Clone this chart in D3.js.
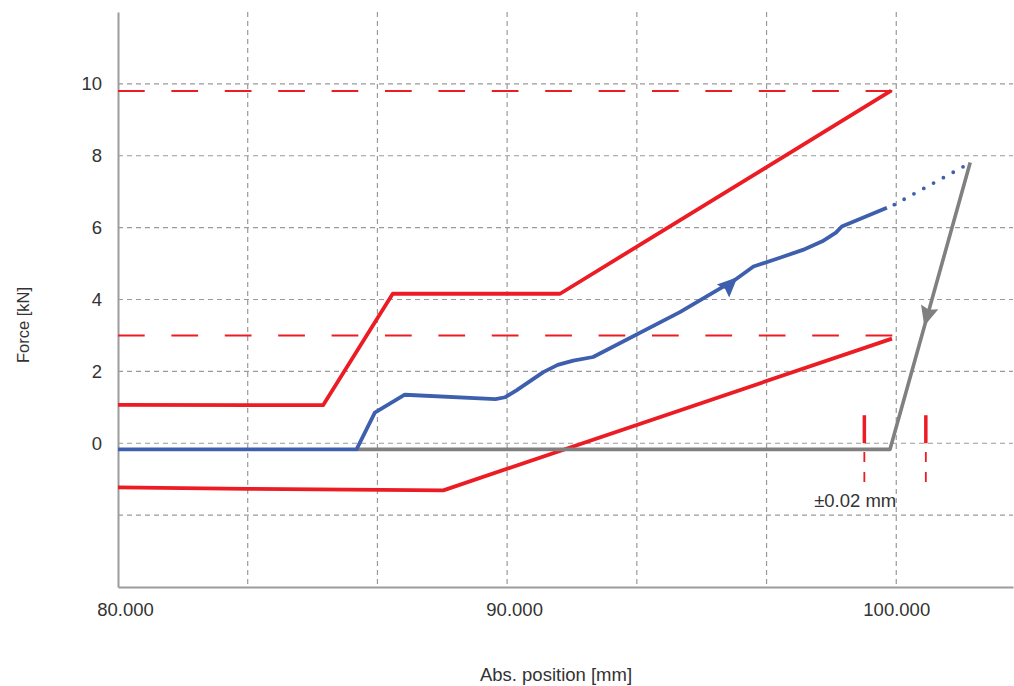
<!DOCTYPE html>
<html>
<head>
<meta charset="utf-8">
<script src="https://cdn.jsdelivr.net/npm/d3@7"></script>
<style>
  body { margin: 0; background: #fff; }
  text { font-family: "Liberation Sans", Arial, sans-serif; fill: #333; }
</style>
</head>
<body>
<script>
"use strict";

// axis ticks
var xTickValues = [80, 90, 100];
var xTickLabels = ["80.000", "90.000", "100.000"];
var yTickValues = [0, 2, 4, 6, 8, 10];
var xGridValues = [83.333, 86.667, 90, 93.333, 96.667, 100];
var yGridValues = [-2, 0, 2, 4, 6, 8, 10];

// upper / lower force limit envelope (red)
var upperLimit = [[80, 1.07], [85.27, 1.06], [87.06, 4.16], [91.36, 4.16], [99.87, 9.81]];
var lowerLimit = [[80, -1.23], [83.33, -1.27], [88.36, -1.31], [99.89, 2.91]];
// horizontal limit levels (dashed red)
var limitLevels = [9.8, 3.0];
var limitLevelEnd = 99.9;

// measured curve (blue)
var measured = [
    [80, -0.17], [86.13, -0.17], [86.6, 0.85], [87.37, 1.35], [89.7, 1.23],
    [89.95, 1.28], [90.24, 1.47], [90.93, 1.98], [91.3, 2.18], [91.7, 2.3],
    [92.21, 2.4], [94.44, 3.65], [95.86, 4.55], [96.33, 4.92], [97.01, 5.16],
    [97.6, 5.38], [98.1, 5.62], [98.45, 5.86], [98.6, 6.03], [99.76, 6.55]
];
var measuredDotted = [[99.95, 6.64], [101.9, 7.8]];

// return path (gray)
var returnPath = [[86.13, -0.17], [99.84, -0.17], [101.9, 7.81]];

// direction arrows: [tail, tip]
var blueArrow = [[95.55, 4.24], [95.92, 4.62]];
var grayArrow = [[100.86, 3.8], [100.72, 3.26]];

// tolerance marks
var tolX = [99.18, 100.76];
var tolSolid = [0, 0.78];
var tolDash = [-1.08, -0.24];
var tolLabel = "\u00b10.02 mm";

var RED = "#ec1c24", BLUE = "#3e5fae", GRAY = "#808081", GRID = "#9a9a9a";

var WIDTH = 1014, HEIGHT = 686;

var svg = d3.select("body").append("svg")
    .attr("width", WIDTH)
    .attr("height", HEIGHT);

var x = d3.scaleLinear().domain([80, 103]).range([118, 1013]);
var y = d3.scaleLinear().domain([-4, 12]).range([587, 12]);

var line = d3.line()
    .x(function(d) { return x(d[0]); })
    .y(function(d) { return y(d[1]); });

// grid
svg.append("g").selectAll("line")
    .data(xGridValues)
    .enter().append("line")
    .attr("x1", function(d) { return x(d); })
    .attr("x2", function(d) { return x(d); })
    .attr("y1", y(12))
    .attr("y2", y(-4))
    .attr("stroke", GRID)
    .attr("stroke-width", 1.2)
    .attr("stroke-dasharray", "5 4");

svg.append("g").selectAll("line")
    .data(yGridValues)
    .enter().append("line")
    .attr("x1", x(80))
    .attr("x2", x(103))
    .attr("y1", function(d) { return y(d); })
    .attr("y2", function(d) { return y(d); })
    .attr("stroke", GRID)
    .attr("stroke-width", 1.2)
    .attr("stroke-dasharray", "5 4");

// axes
var xAxis = d3.axisBottom(x)
    .tickValues(xTickValues)
    .tickSize(0)
    .tickPadding(16)
    .tickFormat(function(d, i) { return xTickLabels[i]; });

var gx = svg.append("g")
    .attr("transform", "translate(0," + y(-4) + ")")
    .call(xAxis);
gx.select(".domain").attr("stroke", "#9c9c9c").attr("stroke-width", 2);
gx.selectAll("text")
    .attr("font-size", 18.5)
    .attr("font-family", null)
    .attr("fill", "#333")
    .attr("dx", function(d, i) { return i < 2 ? 7 : 0; });

var yAxis = d3.axisLeft(y)
    .tickValues(yTickValues)
    .tickSize(0)
    .tickPadding(16);

var gy = svg.append("g")
    .attr("transform", "translate(" + x(80) + ",0)")
    .call(yAxis);
gy.select(".domain").attr("stroke", "#9c9c9c").attr("stroke-width", 2);
gy.selectAll("text")
    .attr("font-size", 18.5)
    .attr("font-family", null)
    .attr("fill", "#333");

// axis titles
svg.append("text")
    .attr("x", 556)
    .attr("y", 681)
    .attr("text-anchor", "middle")
    .attr("font-size", 18.5)
    .text("Abs. position [mm]");

svg.append("text")
    .attr("transform", "translate(29,325) rotate(-90)")
    .attr("text-anchor", "middle")
    .attr("font-size", 16.5)
    .text("Force [kN]");

// dashed limit levels
svg.append("g").selectAll("line")
    .data(limitLevels)
    .enter().append("line")
    .attr("x1", x(80))
    .attr("x2", x(limitLevelEnd))
    .attr("y1", function(d) { return y(d); })
    .attr("y2", function(d) { return y(d); })
    .attr("stroke", RED)
    .attr("stroke-width", 2)
    .attr("stroke-dasharray", "26.7 26.7");

// envelope
[upperLimit, lowerLimit].forEach(function(pts) {
    svg.append("path")
        .datum(pts)
        .attr("d", line)
        .attr("fill", "none")
        .attr("stroke", RED)
        .attr("stroke-width", 3.8)
        .attr("stroke-linejoin", "round");
});

// gray return path
svg.append("path")
    .datum(returnPath)
    .attr("d", line)
    .attr("fill", "none")
    .attr("stroke", GRAY)
    .attr("stroke-width", 3.6)
    .attr("stroke-linejoin", "round");

// blue measured curve
svg.append("path")
    .datum(measured)
    .attr("d", line)
    .attr("fill", "none")
    .attr("stroke", BLUE)
    .attr("stroke-width", 3.8)
    .attr("stroke-linejoin", "round");

svg.append("path")
    .datum(measuredDotted)
    .attr("d", line)
    .attr("fill", "none")
    .attr("stroke", BLUE)
    .attr("stroke-width", 3.8)
    .attr("stroke-linecap", "round")
    .attr("stroke-dasharray", "0 11.2");

// arrow heads
var drawArrow = function(seg, color, len, wid)
{
    var x0 = x(seg[0][0]), y0 = y(seg[0][1]);
    var x1 = x(seg[1][0]), y1 = y(seg[1][1]);
    var dx = x1 - x0, dy = y1 - y0;
    var n = Math.sqrt(dx * dx + dy * dy);
    dx /= n; dy /= n;
    var bx = x1 - dx * len, by = y1 - dy * len;
    var px = -dy * wid / 2, py = dx * wid / 2;
    var notchX = x1 - dx * len * 0.85, notchY = y1 - dy * len * 0.85;
    svg.append("path")
        .attr("d", "M" + x1 + "," + y1 +
                   "L" + (bx + px) + "," + (by + py) +
                   "L" + notchX + "," + notchY +
                   "L" + (bx - px) + "," + (by - py) + "Z")
        .attr("fill", color);
};
drawArrow(blueArrow, BLUE, 20, 18);
drawArrow(grayArrow, GRAY, 20, 18);

// tolerance marks
var tol = svg.append("g");
tol.selectAll("line.solid")
    .data(tolX)
    .enter().append("line")
    .attr("class", "solid")
    .attr("x1", function(d) { return x(d); })
    .attr("x2", function(d) { return x(d); })
    .attr("y1", y(tolSolid[0]))
    .attr("y2", y(tolSolid[1]))
    .attr("stroke", RED)
    .attr("stroke-width", 3.5);

tol.selectAll("line.dash")
    .data(tolX)
    .enter().append("line")
    .attr("class", "dash")
    .attr("x1", function(d) { return x(d); })
    .attr("x2", function(d) { return x(d); })
    .attr("y1", y(tolDash[1]))
    .attr("y2", y(tolDash[0]))
    .attr("stroke", RED)
    .attr("stroke-width", 1.8)
    .attr("stroke-dasharray", "10 10");

tol.append("text")
    .attr("x", x(100))
    .attr("y", 507)
    .attr("text-anchor", "end")
    .attr("font-size", 18.5)
    .text(tolLabel);
</script>
</body>
</html>
